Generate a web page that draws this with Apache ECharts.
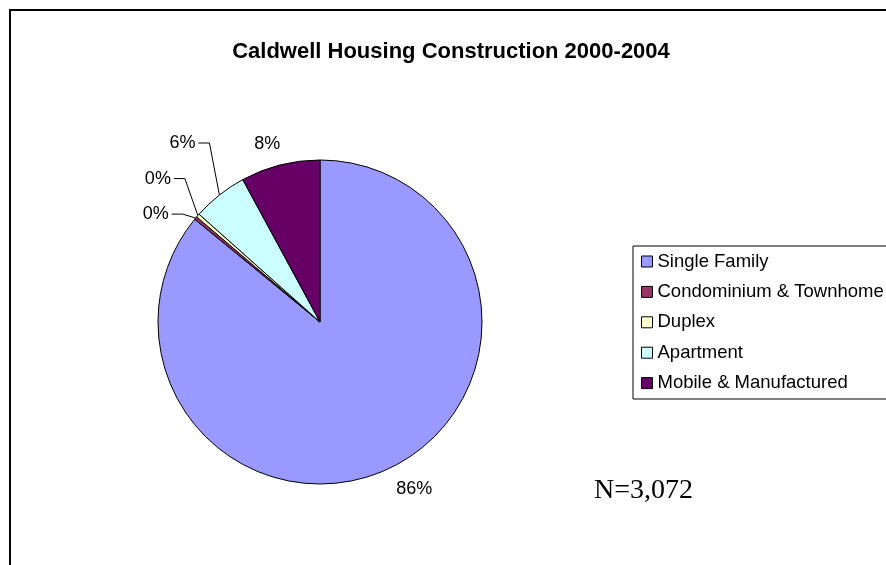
<!DOCTYPE html>
<html><head><meta charset="utf-8">
<script src="https://cdn.jsdelivr.net/npm/echarts@6/dist/echarts.min.js"></script>
<style>html,body{margin:0;padding:0;background:#fff}#c{width:886px;height:565px}</style>
</head><body><div id="c"></div>
<script>
// ---- data ----
const categories = ['Single Family', 'Condominium & Townhome', 'Duplex', 'Apartment', 'Mobile & Manufactured'];
const counts = [2640, 9, 11, 169, 243];
const colors = ['#9999FF', '#993366', '#FFFFCC', '#CCFFFF', '#660066'];
const titleText = 'Caldwell Housing Construction 2000-2004';
const noteText = 'N=3,072';

// ---- layout ----
const CX = 320, CY = 322, R = 162;
// label offset from the slice's outer-edge midpoint, and whether a leader line is drawn
const labelPlace = [
  { dx: 25, dy: 21, line: false },
  { dx: -40, dy: -4, line: true },
  { dx: -40, dy: -37, line: true },
  { dx: -37, dy: -52, line: true },
  { dx: -13, dy: -21, line: false }
];
const total = counts.reduce((a, b) => a + b, 0);
const anchors = [];
let cum = 0;
counts.forEach(v => {
  const mid = (cum + v / 2) / total * 2 * Math.PI; // clockwise from 12 o'clock
  anchors.push([CX + R * Math.sin(mid), CY - R * Math.cos(mid)]);
  cum += v;
});

const chart = echarts.init(document.getElementById('c'), null, { renderer: 'canvas' });
const font = 'Liberation Sans, Arial, sans-serif';
chart.setOption({
  animation: false,
  backgroundColor: '#ffffff',
  color: colors,
  title: {
    text: titleText, left: 451, top: 41, textAlign: 'center', padding: 0,
    textStyle: { fontFamily: font, fontWeight: 'bold', fontSize: 22, color: '#000' }
  },
  graphic: [
    { type: 'rect', shape: { x: 10, y: 10, width: 900, height: 600 }, style: { fill: null, stroke: '#000', lineWidth: 2 }, z: -1 },
    { type: 'rect', shape: { x: 633, y: 246, width: 300, height: 153 }, style: { fill: '#fff', stroke: '#000', lineWidth: 1 }, z: 0 },
    { type: 'text', left: 594, top: 477, style: { text: noteText, font: '28px "Liberation Serif", "Times New Roman", serif', fill: '#000' }, z: 5 }
  ],
  legend: {
    orient: 'vertical', left: 641, top: 252, icon: 'rect', padding: 0,
    itemWidth: 11, itemHeight: 11, itemGap: 11.4,
    data: categories,
    itemStyle: { borderColor: '#000', borderWidth: 1 },
    textStyle: { fontFamily: font, fontSize: 18.5, lineHeight: 19, color: '#000' },
    z: 3
  },
  series: [{
    type: 'pie',
    center: [CX, CY], radius: R,
    startAngle: 90, clockwise: true,
    avoidLabelOverlap: false,
    itemStyle: { borderColor: '#000', borderWidth: 1 },
    emphasis: { disabled: true },
    label: {
      show: true, position: 'outside',
      formatter: p => Math.round(p.value / total * 100) + '%',
      fontFamily: font, fontSize: 18, color: '#000'
    },
    labelLine: { show: true, length: 10, length2: 10, lineStyle: { color: '#000', width: 1 } },
    labelLayout: function (params) {
      const i = params.dataIndex;
      const a = anchors[i], pl = labelPlace[i];
      const x = a[0] + pl.dx, y = a[1] + pl.dy;
      const w = params.labelRect.width;
      const out = { x: x, y: y, align: 'center', verticalAlign: 'middle' };
      if (pl.line) {
        const right = x + w / 2;
        out.labelLinePoints = [a, [right + 14, y], [right + 3, y]];
      }
      return out;
    },
    data: categories.map((c, i) => ({
      name: c, value: counts[i],
      labelLine: { show: labelPlace[i].line }
    }))
  }]
});
</script></body></html>
